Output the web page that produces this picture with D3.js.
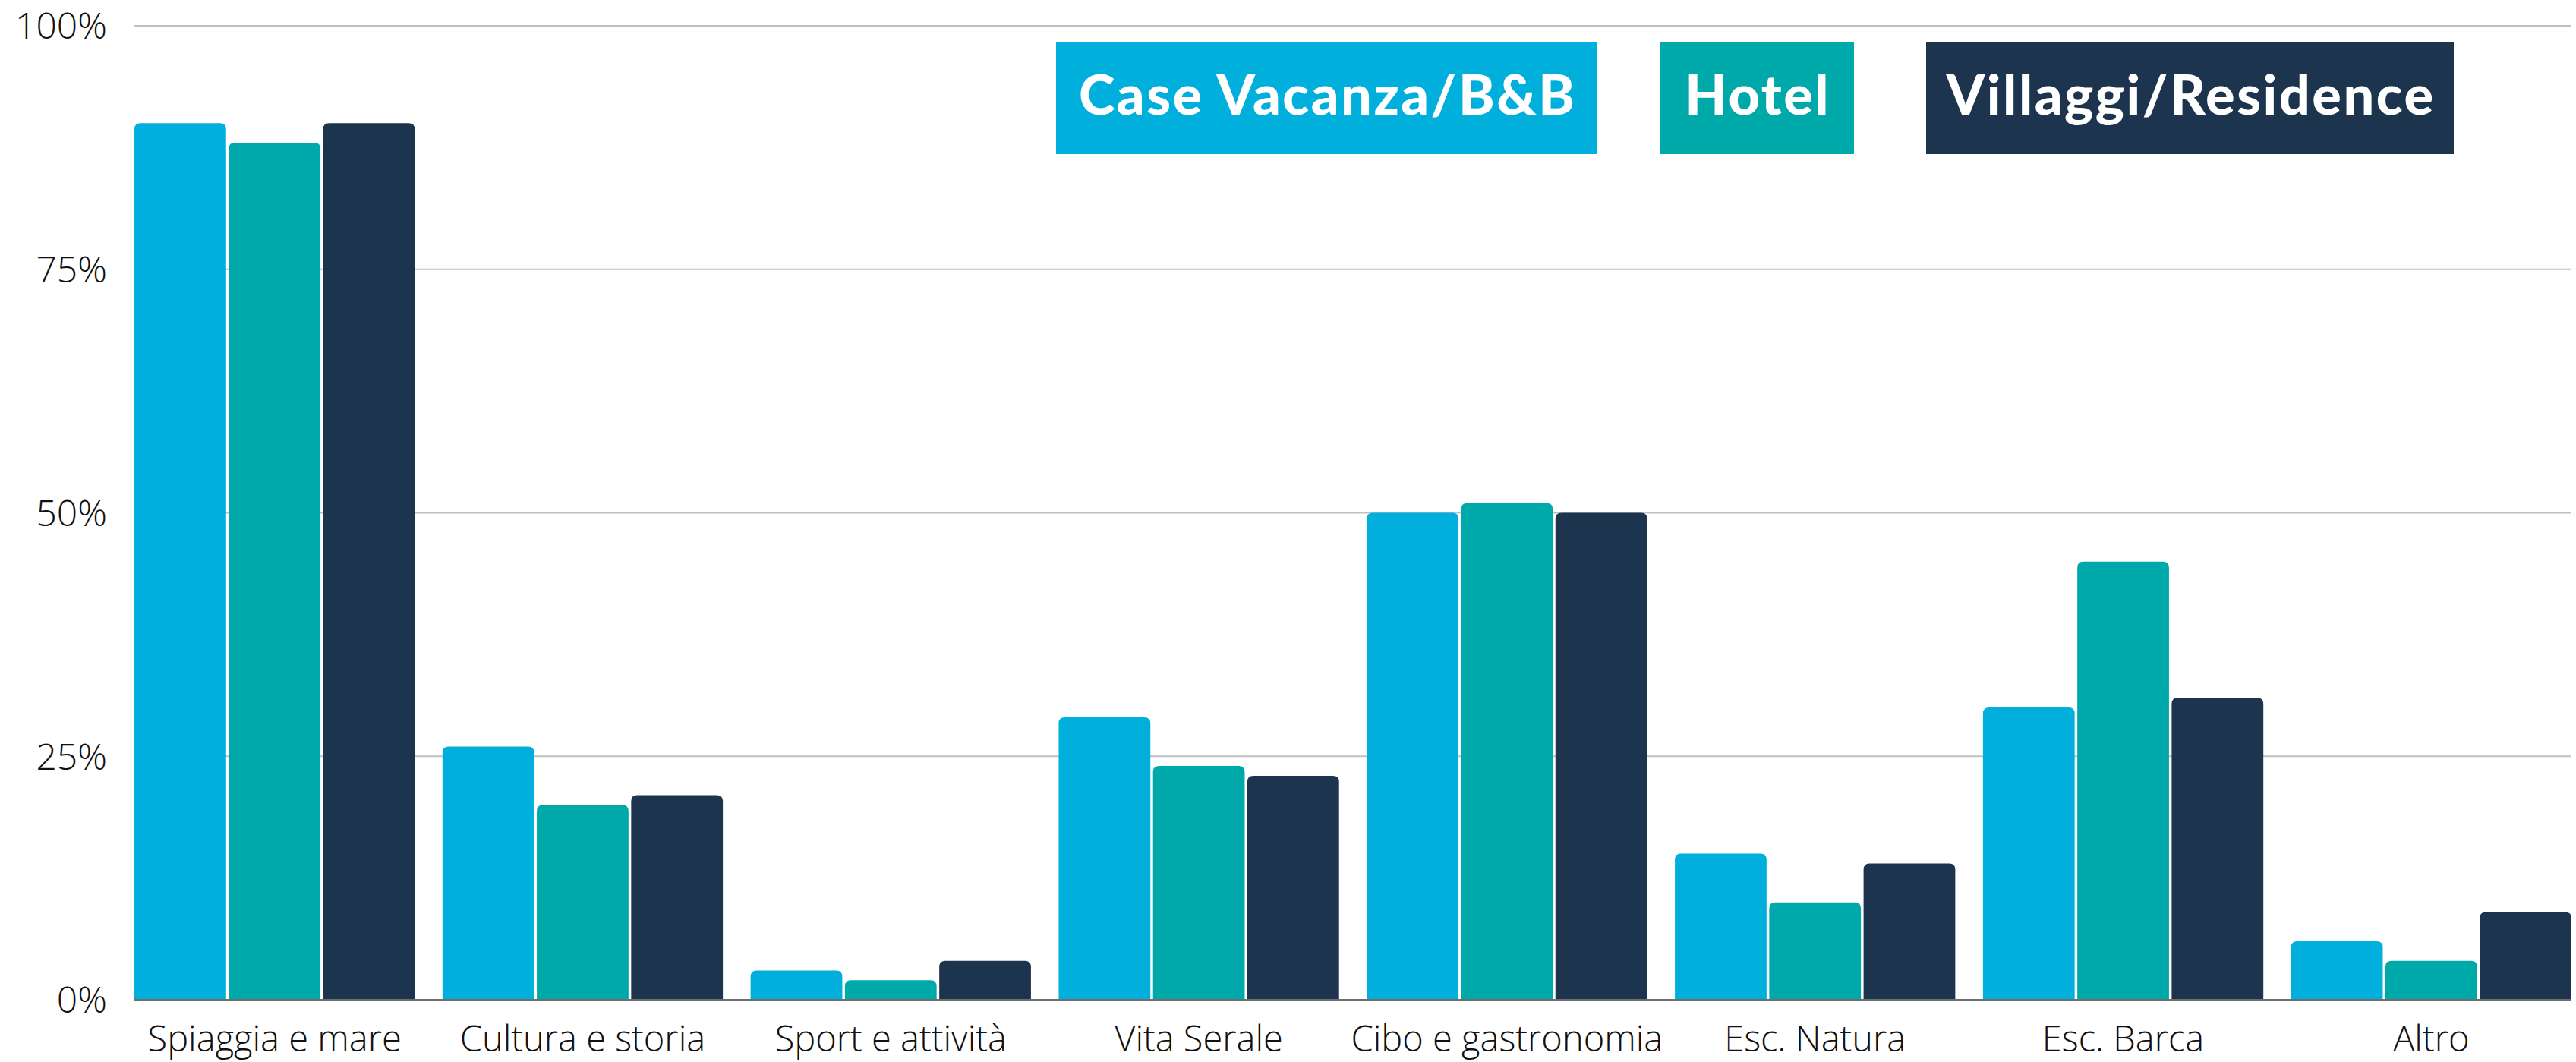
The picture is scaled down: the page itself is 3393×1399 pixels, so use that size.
<!DOCTYPE html>
<html>
<head>
<meta charset="utf-8">
<script src="https://cdn.jsdelivr.net/npm/d3@7"></script>
<style>
html,body{margin:0;padding:0;background:#fff;}
svg{display:block;}
</style>
</head>
<body>
<svg id="chart" width="3393" height="1399"></svg>
<script>
const categories = ["Spiaggia e mare","Cultura e storia","Sport e attività","Vita Serale","Cibo e gastronomia","Esc. Natura","Esc. Barca","Altro"];
const seriesNames = ["Case Vacanza/B&B","Hotel","Villaggi/Residence"];
const caseVacanza = [90,26,3,29,50,15,30,6];
const hotel = [88,20,2,24,51,10,45,4];
const villaggi = [90,21,4,23,50,14,31,9];
const yTicks = [0,25,50,75,100];
const colors = ["#00AFDB","#00A9A9","#1D344E"];

const seriesValues = [caseVacanza, hotel, villaggi];
const W = 3393, H = 1399;
const margin = {left:177, right:6, top:34, bottom:82};
const svg = d3.select("#chart");

const x0 = d3.scaleBand().domain(categories).range([margin.left, W - margin.right]).paddingInner(0.09).paddingOuter(0);
const x1 = d3.scaleBand().domain(seriesNames).range([0, x0.bandwidth()]).paddingInner(0.028);
const y = d3.scaleLinear().domain([0,100]).range([H - margin.bottom, margin.top]);
const color = d3.scaleOrdinal().domain(seriesNames).range(colors);

// gridlines
svg.append("g").selectAll("line").data(yTicks.filter(d => d > 0)).join("line")
  .attr("x1", margin.left).attr("x2", W - margin.right)
  .attr("y1", d => y(d)).attr("y2", d => y(d))
  .attr("stroke", "#c0c0c0").attr("stroke-width", 2);

// y labels
svg.append("g").selectAll("text").data(yTicks).join("text")
  .attr("x", 141).attr("y", d => y(d)).attr("dy", "0.36em")
  .attr("text-anchor", "end")
  .attr("font-family", "'Open Sans', sans-serif").attr("font-weight", 300)
  .attr("font-size", 48).attr("fill", "#111")
  .text(d => d + "%");

// bars
const rows = [];
categories.forEach((c, i) => seriesNames.forEach((s, j) => rows.push({cat:c, ser:s, val:seriesValues[j][i]})));

function topRounded(x, yTop, w, yBase, r) {
  const rr = Math.min(r, (yBase - yTop), w/2);
  return `M${x},${yBase}V${yTop+rr}Q${x},${yTop} ${x+rr},${yTop}H${x+w-rr}Q${x+w},${yTop} ${x+w},${yTop+rr}V${yBase}Z`;
}

svg.append("g").selectAll("path").data(rows).join("path")
  .attr("d", d => topRounded(x0(d.cat) + x1(d.ser), y(d.val), x1.bandwidth(), y(0), 8))
  .attr("fill", d => color(d.ser));

// baseline
svg.append("line")
  .attr("x1", margin.left).attr("x2", W - margin.right)
  .attr("y1", y(0)).attr("y2", y(0))
  .attr("stroke", "#6e6e6e").attr("stroke-width", 2);

// x labels
svg.append("g").selectAll("text").data(categories).join("text")
  .attr("x", d => x0(d) + x0.bandwidth()/2).attr("y", 1385)
  .attr("text-anchor", "middle")
  .attr("font-family", "'Open Sans', sans-serif").attr("font-weight", 300)
  .attr("font-size", 47).attr("fill", "#111")
  .text(d => d);

// legend
const legendX = [1391, 2186, 2537];
const legendW = [713, 256, 695];
const lg = svg.append("g").selectAll("g").data(seriesNames).join("g");
lg.append("rect")
  .attr("x", (d,i) => legendX[i]).attr("y", 55)
  .attr("width", (d,i) => legendW[i]).attr("height", 148)
  .attr("fill", d => color(d));
lg.append("text")
  .attr("x", (d,i) => legendX[i] + legendW[i]/2 + 1.2).attr("y", 151)
  .attr("text-anchor", "middle")
  .attr("font-family", "Lato, sans-serif").attr("font-weight", 900)
  .attr("font-size", 72).attr("letter-spacing", 2.5).attr("fill", "#fff")
  .text(d => d);
</script>
</body>
</html>
